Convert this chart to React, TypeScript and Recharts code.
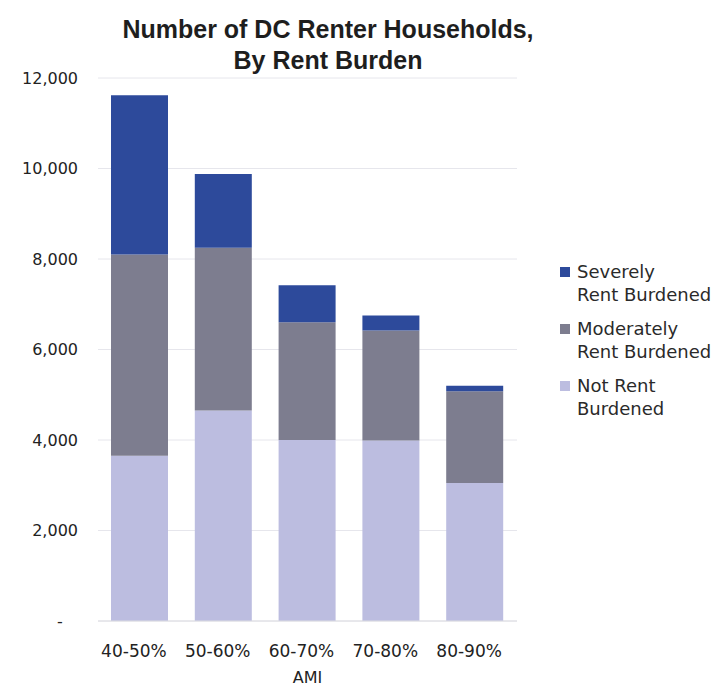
import { Bar, BarChart, CartesianGrid, XAxis, YAxis } from "recharts";

const categories = ["40-50%", "50-60%", "60-70%", "70-80%", "80-90%"];
const notBurdened = [3650, 4650, 4000, 3990, 3050];
const moderately = [4450, 3600, 2600, 2430, 2030];
const severely = [3520, 1630, 820, 330, 120];
const yTicks = [0, 2000, 4000, 6000, 8000, 10000, 12000];

const series = [
  { key: "severe", name: "Severely\nRent Burdened", color: "#2d4a9b" },
  { key: "moderate", name: "Moderately\nRent Burdened", color: "#7d7d8f" },
  { key: "not", name: "Not Rent\nBurdened", color: "#bcbde0" },
];

const data = categories.map((c, i) => ({
  ami: c,
  not: notBurdened[i],
  moderate: moderately[i],
  severe: severely[i],
}));

const font = "'DejaVu Sans', sans-serif";

function fmtTick(v: number) {
  return v === 0 ? "-\u00a0\u00a0\u00a0" : v.toLocaleString("en-US");
}

function LegendBox() {
  return (
    <div
      style={{
        position: "absolute",
        left: 556,
        top: 260,
        width: 164,
        fontFamily: font,
        fontSize: 18,
        color: "#2a2a2a",
        lineHeight: "23px",
      }}
    >
      {series.map((s) => {
        const [a, b] = s.name.split("\n");
        return (
          <div key={s.key} style={{ position: "relative", paddingLeft: 21, marginBottom: 11 }}>
            <span
              style={{
                position: "absolute",
                left: 4,
                top: 7,
                width: 10,
                height: 10,
                background: s.color,
              }}
            />
            <div>{a}</div>
            <div>{b}</div>
          </div>
        );
      })}
    </div>
  );
}

export default function App() {
  return (
    <div style={{ position: "absolute", left: 0, top: 0, width: 720, height: 690, background: "#fff" }}>
      <BarChart
        width={720}
        height={690}
        data={data}
        margin={{ top: 78, right: 203, bottom: 0, left: 18 }}
        barSize={57}
      >
        <CartesianGrid stroke="#e6e6ec" vertical={false} />
        <XAxis
          dataKey="ami"
          interval={0}
          axisLine={{ stroke: "#dcdce2" }}
          tickLine={false}
          tickSize={0}
          tickMargin={24}
          height={69}
          tick={{ fill: "#222", fontSize: 17, fontFamily: font, dx: -6 }}
          label={{
            value: "AMI",
            position: "insideBottom",
            offset: 7,
            fill: "#222",
            fontSize: 16,
            fontFamily: font,
          }}
        />
        <YAxis
          width={80}
          domain={[0, 12000]}
          ticks={yTicks}
          axisLine={false}
          tickLine={false}
          tickSize={0}
          tickMargin={20}
          tickFormatter={fmtTick}
          tick={{ fill: "#222", fontSize: 16, fontFamily: font }}
        />
        <Bar dataKey="not" name="Not Rent Burdened" stackId="a" fill="#bcbde0" isAnimationActive={false} />
        <Bar dataKey="moderate" name="Moderately Rent Burdened" stackId="a" fill="#7d7d8f" isAnimationActive={false} />
        <Bar dataKey="severe" name="Severely Rent Burdened" stackId="a" fill="#2d4a9b" isAnimationActive={false} />
      </BarChart>
      <div
        style={{
          position: "absolute",
          left: 78,
          width: 500,
          top: 14,
          textAlign: "center",
          whiteSpace: "nowrap",
          fontFamily: "'Liberation Sans', sans-serif",
          fontWeight: "bold",
          fontSize: 25,
          lineHeight: "31px",
          color: "#1e1e1e",
        }}
      >
        Number of DC Renter Households,
        <br />
        By Rent Burden
      </div>
      <LegendBox />
    </div>
  );
}
